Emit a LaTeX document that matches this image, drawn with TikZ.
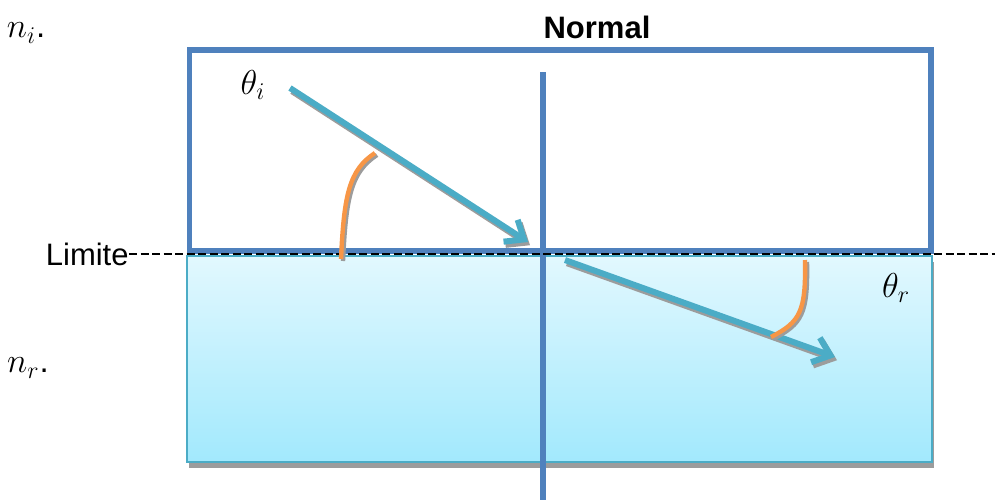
\documentclass[tikz,border=0pt]{standalone}
\usepackage{fontspec}
\setmainfont{Liberation Sans}
\usetikzlibrary{arrows.meta}
\definecolor{boxblue}{HTML}{4F81BD}
\definecolor{raycyan}{HTML}{4BACC6}
\definecolor{angorange}{HTML}{F79646}
\definecolor{shadowgray}{HTML}{9C9C9C}
\definecolor{watertop}{HTML}{E2F8FE}
\definecolor{waterbot}{HTML}{A2E9FD}
\begin{document}
\begin{tikzpicture}[x=0.5pt, y=-0.5pt, font=\fontsize{15.5}{18}\selectfont,
  lab/.style={inner sep=0pt},
  mlab/.style={inner sep=0pt, font=\fontsize{16.5}{18}\selectfont},
  edgeblue/.style={draw=boxblue, line width=2.8pt},
  ray/.style={draw=raycyan, line width=3pt, -{Straight Barb[length=8pt,width=13pt]}},
  raysh/.style={ray, draw=shadowgray, transform canvas={xshift=1pt,yshift=-1.6pt}},
  angarc/.style={draw=angorange, line width=2.2pt},
  arcsh/.style={angarc, draw=shadowgray, transform canvas={xshift=1pt,yshift=-1pt}}]
  \useasboundingbox (0,0) rectangle (995,500);
  % lower medium
  \fill[shadowgray] (189,262) rectangle (934,468);
  \draw[draw=raycyan, line width=1.2pt, top color=watertop, bottom color=waterbot] (187,256) rectangle (932,462);
  % upper medium
  \draw[edgeblue] (189.5,50) rectangle (931,251);
  % normal
  \coordinate (nTop) at (543,72);
  \coordinate (nBot) at (543,500);
  \draw[edgeblue, line width=3pt] (nTop) -- (nBot);
  \node[lab] (normal) at (597,27) {\bfseries Normal};
  % boundary
  \node[lab, anchor=east] (limite) at (129,254) {Limite};
  \coordinate (limEnd) at (995,254);
  \draw[black, line width=1pt, dash pattern=on 4pt off 1.75pt] (limite.east) -- (limEnd);
  % indices
  \node[mlab] (ni) at (26,33) {$n_i$.};
  \node[mlab] (nr) at (28,368) {$n_r$.};
  % rays
  \coordinate (inS) at (290,88);
  \coordinate (inE) at (528,242);
  \coordinate (rfS) at (565,260);
  \coordinate (rfE) at (835,357);
  \draw[raysh] (inS) -- (inE);
  \draw[ray] (inS) -- (inE);
  \draw[raysh] (rfS) -- (rfE);
  \draw[ray] (rfS) -- (rfE);
  % angles
  \draw[arcsh] (341,259) .. controls (344,195) and (349,170) .. (375,153);
  \draw[angarc] (341,259) .. controls (344,195) and (349,170) .. (375,153);
  \draw[arcsh] (805,260) .. controls (806,312) and (800,322) .. (771,337);
  \draw[angarc] (805,260) .. controls (806,312) and (800,322) .. (771,337);
  \node[mlab] (thi) at (253,85) {$\theta_i$};
  \node[mlab] (thr) at (896,288) {$\theta_r$};
\end{tikzpicture}
\end{document}
